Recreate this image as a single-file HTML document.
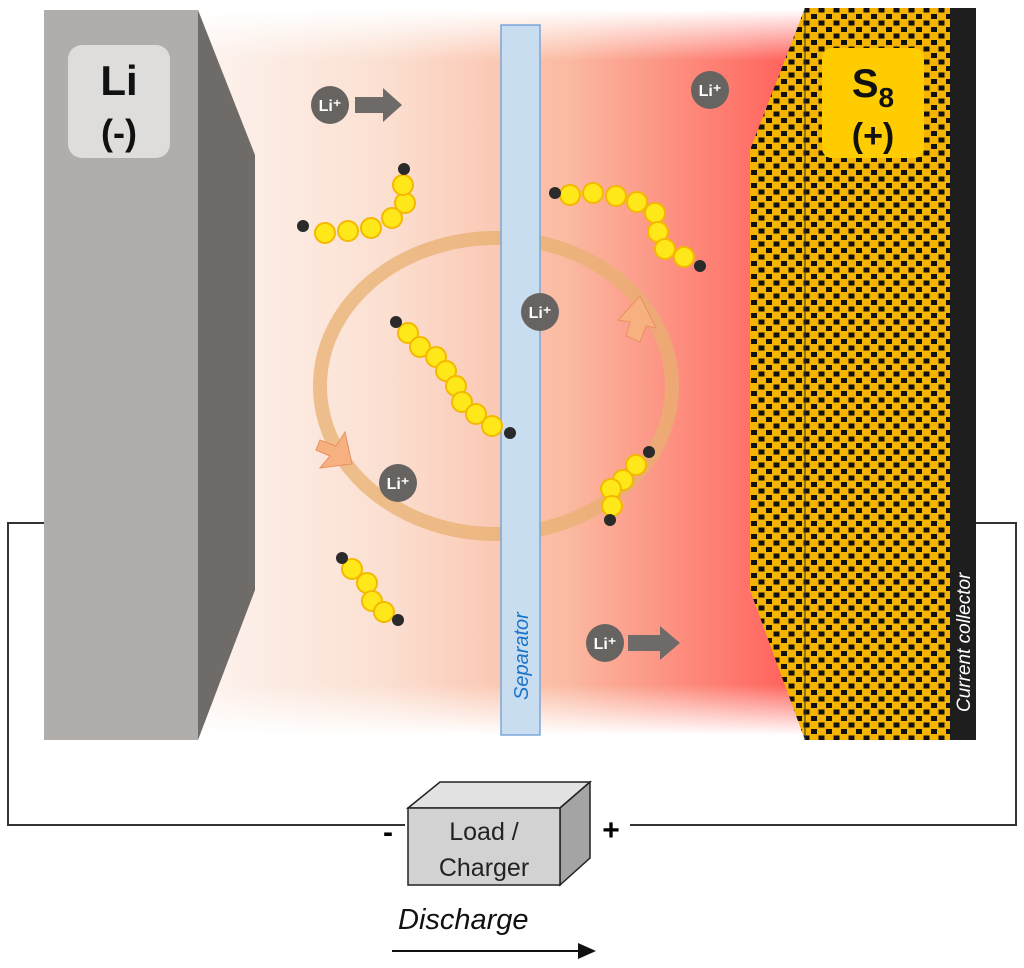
<!DOCTYPE html>
<html><head><style>html,body{margin:0;padding:0;background:#fff}svg{display:block}</style></head><body>
<svg width="1024" height="968" viewBox="0 0 1024 968" xmlns="http://www.w3.org/2000/svg" font-family="Liberation Sans, sans-serif">
<defs>
<linearGradient id="el" x1="0" x2="1" y1="0" y2="0">
<stop offset="0" stop-color="#fdf3ee"/><stop offset="0.3" stop-color="#fbe0d2"/><stop offset="0.6" stop-color="#fbbaa2"/><stop offset="1" stop-color="#ff5a55"/></linearGradient>
<linearGradient id="fade" x1="0" x2="0" y1="0" y2="1">
<stop offset="0" stop-color="#fff" stop-opacity="1"/><stop offset="0.07" stop-color="#fff" stop-opacity="0"/><stop offset="0.93" stop-color="#fff" stop-opacity="0"/><stop offset="1" stop-color="#fff" stop-opacity="1"/></linearGradient>
<pattern id="dots" width="15" height="13" patternUnits="userSpaceOnUse">
<rect width="15" height="13" fill="#f5b400"/>
<rect x="1" y="1" width="6" height="5" fill="#111"/><rect x="8.5" y="7.5" width="6" height="5" fill="#111"/></pattern>
</defs>
<rect x="200" y="10" width="610" height="725" fill="url(#el)"/>
<rect x="200" y="10" width="610" height="725" fill="url(#fade)"/>
<!-- Li anode -->
<polygon points="198,10 255,155 255,590 198,740" fill="#6f6b68"/>
<rect x="44" y="10" width="154" height="730" fill="#b0adaa"/>
<rect x="68" y="45" width="102" height="113" rx="14" fill="#dedddc"/>
<text x="119" y="95" font-size="42" font-weight="bold" text-anchor="middle" fill="#111">Li</text>
<text x="119" y="145" font-size="36" font-weight="bold" text-anchor="middle" fill="#111">(-)</text>
<!-- ring -->
<ellipse cx="496" cy="386" rx="176" ry="148" fill="none" stroke="#e8b070" stroke-width="14" opacity="0.75"/>
<polygon points="320,440 336,446 345,432 352,464 320,468 330,456 316,450" fill="#f7b080" stroke="#e89060" stroke-width="1"/>
<polygon points="626,336 640,342 646,326 656,328 640,296 618,320 630,322" fill="#f7b080" stroke="#e89060" stroke-width="1"/>
<!-- separator -->
<rect x="501" y="25" width="39" height="710" fill="#c9ddf1" stroke="#7aa7d8" stroke-width="1.5"/>
<text transform="translate(528,700) rotate(-90)" font-size="20" font-style="italic" fill="#1a74c8">Separator</text>
<!-- cathode -->
<polygon points="805,8 950,8 950,740 805,740 750,590 750,150" fill="url(#dots)"/>
<line x1="805" y1="8" x2="805" y2="740" stroke="#333" stroke-width="1"/>
<rect x="822" y="48" width="102" height="110" rx="10" fill="#ffcc00"/>
<text x="873" y="97" font-size="40" font-weight="bold" text-anchor="middle" fill="#111">S<tspan font-size="28" dy="10">8</tspan></text>
<text x="873" y="147" font-size="34" font-weight="bold" text-anchor="middle" fill="#111">(+)</text>
<rect x="950" y="8" width="26" height="732" fill="#1e1e1e"/>
<text transform="translate(970,712) rotate(-90)" font-size="19" font-style="italic" fill="#fff">Current collector</text>
<!-- wires -->
<polyline points="44,523 8,523 8,825 405,825" fill="none" stroke="#333" stroke-width="2"/>
<polyline points="976,523 1016,523 1016,825 630,825" fill="none" stroke="#333" stroke-width="2"/>
<text x="388" y="842" font-size="30" font-weight="bold" text-anchor="middle">-</text>
<text x="611" y="840" font-size="30" font-weight="bold" text-anchor="middle">+</text>
<!-- load box -->
<polygon points="408,808 440,782 590,782 560,808" fill="#e2e2e2" stroke="#222" stroke-width="1.5"/>
<polygon points="560,808 590,782 590,858 560,885" fill="#a4a4a4" stroke="#222" stroke-width="1.5"/>
<rect x="408" y="808" width="152" height="77" fill="#d2d2d2" stroke="#222" stroke-width="1.5"/>
<text x="484" y="840" font-size="25" text-anchor="middle" fill="#222">Load /</text>
<text x="484" y="876" font-size="25" text-anchor="middle" fill="#222">Charger</text>
<text x="398" y="929" font-size="29" font-style="italic" fill="#111">Discharge</text>
<line x1="392" y1="951" x2="585" y2="951" stroke="#111" stroke-width="2"/>
<polygon points="596,951 578,943 578,959" fill="#111"/>
<!-- Li+ ions -->
<g fill="#6d6a68"><polygon points="355,97 383,97 383,88 402,105 383,122 383,113 355,113"/>
<polygon points="628,635 660,635 660,626 680,643 660,660 660,651 628,651"/></g>
<g font-size="16" fill="#fff" text-anchor="middle" font-weight="bold">
<circle cx="330" cy="105" r="19" fill="#666361"/><text x="330" y="111">Li⁺</text>
<circle cx="540" cy="312" r="19" fill="#666361"/><text x="540" y="318">Li⁺</text>
<circle cx="398" cy="483" r="19" fill="#666361"/><text x="398" y="489">Li⁺</text>
<circle cx="710" cy="90" r="19" fill="#666361"/><text x="710" y="96">Li⁺</text>
<circle cx="605" cy="643" r="19" fill="#666361"/><text x="605" y="649">Li⁺</text>
</g>
<!-- polysulfides -->
<g fill="#ffe81a" stroke="#f5b800" stroke-width="2">
<circle cx="325" cy="233" r="10"/><circle cx="348" cy="231" r="10"/><circle cx="371" cy="228" r="10"/><circle cx="392" cy="218" r="10"/><circle cx="405" cy="203" r="10"/><circle cx="403" cy="185" r="10"/>
<circle cx="570" cy="195" r="10"/><circle cx="593" cy="193" r="10"/><circle cx="616" cy="196" r="10"/><circle cx="637" cy="202" r="10"/><circle cx="655" cy="213" r="10"/><circle cx="658" cy="232" r="10"/><circle cx="665" cy="249" r="10"/><circle cx="684" cy="257" r="10"/>
<circle cx="408" cy="333" r="10"/><circle cx="420" cy="347" r="10"/><circle cx="436" cy="357" r="10"/><circle cx="446" cy="371" r="10"/><circle cx="456" cy="386" r="10"/><circle cx="462" cy="402" r="10"/><circle cx="476" cy="414" r="10"/><circle cx="492" cy="426" r="10"/>
<circle cx="636" cy="465" r="10"/><circle cx="623" cy="480" r="10"/><circle cx="611" cy="489" r="10"/><circle cx="612" cy="506" r="10"/>
<circle cx="352" cy="569" r="10"/><circle cx="367" cy="583" r="10"/><circle cx="372" cy="601" r="10"/><circle cx="384" cy="612" r="10"/>
</g>
<g fill="#2a2a2a">
<circle cx="303" cy="226" r="6"/><circle cx="404" cy="169" r="6"/>
<circle cx="555" cy="193" r="6"/><circle cx="700" cy="266" r="6"/>
<circle cx="396" cy="322" r="6"/><circle cx="510" cy="433" r="6"/>
<circle cx="649" cy="452" r="6"/><circle cx="610" cy="520" r="6"/>
<circle cx="342" cy="558" r="6"/><circle cx="398" cy="620" r="6"/>
</g>
</svg>
</body></html>
